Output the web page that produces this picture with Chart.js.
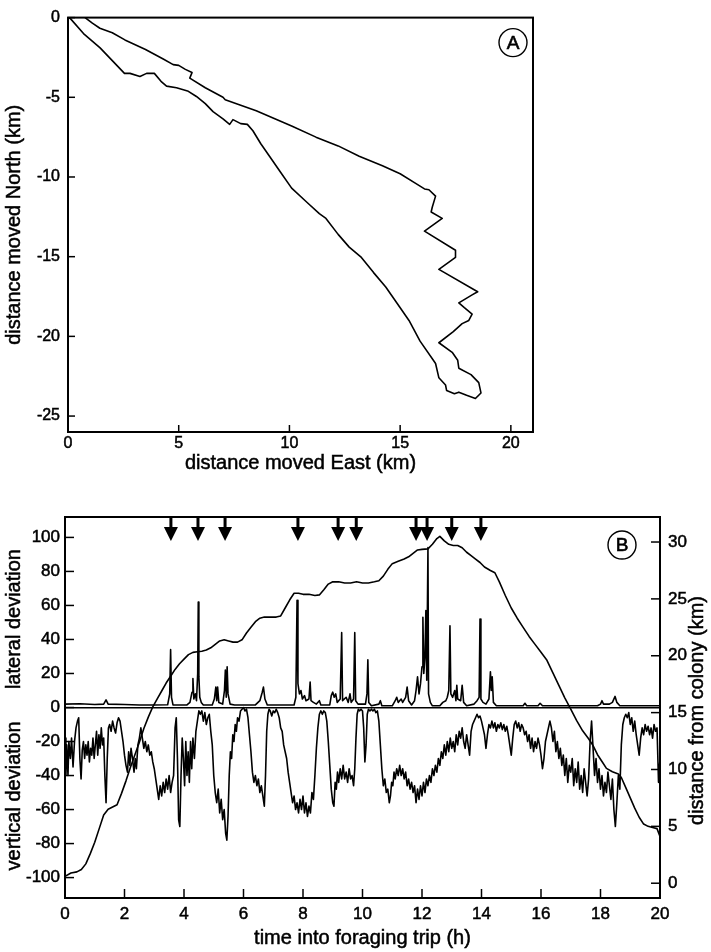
<!DOCTYPE html>
<html>
<head>
<meta charset="utf-8">
<script src="https://cdn.jsdelivr.net/npm/chart.js@4.4.1/dist/chart.umd.min.js"></script>
<style>
  html, body { margin: 0; padding: 0; background: #fff; }
  #wrap { position: relative; width: 711px; height: 952px; }
  canvas { position: absolute; left: 0; }
  #trackA { top: 0; }
  #tripB { top: 480px; }
</style>
</head>
<body>
<div id="wrap">
  <canvas id="trackA" width="711" height="478"></canvas>
  <canvas id="tripB" width="711" height="472"></canvas>
</div>
<script>
// panel A: track, [east km, north km], outbound then return
const trackEN = [
  [0.77,0],[1.1,-0.35],[1.44,-0.67],[2.0,-0.95],[2.57,-1.4],[3.5,-2.0],[4.3,-2.6],[4.75,-2.95],
  [5.0,-3.0],[5.3,-3.25],[5.6,-3.45],[5.5,-3.8],[6.2,-4.4],[7.0,-5.0],[7.1,-5.15],[8.5,-5.85],
  [10.1,-6.8],[11.2,-7.5],[12.2,-8.05],[13.15,-8.7],[14.2,-9.3],[15.0,-9.8],[15.7,-10.4],[16.1,-10.75],
  [16.3,-10.8],[16.6,-11.2],[16.45,-11.9],[16.4,-12.2],[16.9,-12.6],[16.1,-13.4],[17.5,-14.6],[17.5,-15.05],
  [16.75,-15.8],[18.5,-17.2],[18.25,-17.4],[17.65,-17.9],[17.9,-18.2],[18.25,-18.6],[18.1,-19.0],[17.8,-19.2],
  [17.4,-19.7],[16.75,-20.4],[17.35,-21.0],[17.6,-21.5],[17.65,-22.0],[18.2,-22.4],[18.55,-22.9],[18.65,-23.55],
  [18.4,-23.9],[18.0,-23.7],[17.65,-23.5],[17.45,-23.6],[17.1,-23.4],[17.05,-23.05],[16.75,-22.6],[16.6,-21.7],
  [16.5,-21.5],[15.9,-20.3],[15.4,-19.0],[14.9,-18.0],[14.35,-16.9],[13.8,-16.0],[13.25,-15.05],[12.7,-14.4],
  [12.2,-13.6],[11.65,-12.6],[11.35,-12.3],[10.8,-11.6],[10.1,-10.7],[9.6,-9.7],[9.1,-8.7],[8.7,-7.9],
  [8.35,-7.1],[8.1,-6.7],[7.8,-6.65],[7.45,-6.4],[7.3,-6.7],[7.0,-6.35],[6.55,-5.9],[6.2,-5.4],
  [5.8,-4.95],[5.4,-4.6],[4.9,-4.4],[4.45,-4.3],[4.2,-4.0],[3.9,-3.5],[3.55,-3.5],[3.25,-3.7],
  [2.8,-3.5],[2.55,-3.5],[2.0,-2.7],[1.45,-1.9],[0.7,-1.0],[0.1,-0.05],[0,0]
];

// panel B: [hours, value]
const lateralDev = [
  [0,2],[0.5,2.2],[1.0,1.8],[1.3,2],[1.38,4.5],[1.45,2],[2.0,1.8],[2.5,1.5],[3.0,1.5],[3.45,1.6],
  [3.52,8],[3.55,34],[3.58,6],[3.63,1.5],[4.1,1.5],[4.2,3],[4.27,9],[4.3,17],[4.33,5],[4.38,8],
  [4.42,4],[4.46,20],[4.48,62],[4.5,18],[4.53,6],[4.58,3],[4.65,1.5],[4.95,1.5],[5.02,5],[5.07,12],
  [5.1,4],[5.13,12],[5.17,3],[5.3,2],[5.36,10],[5.39,22],[5.42,6],[5.45,24],[5.48,8],[5.55,2],
  [5.7,1.5],[6.4,1.5],[6.55,4],[6.63,9],[6.67,12],[6.72,5],[6.8,1.5],[7.7,1.5],[7.76,6],[7.8,63],
  [7.83,14],[7.88,8],[7.93,10],[7.98,5],[8.05,7],[8.1,4],[8.2,5],[8.24,15],[8.27,4],[8.35,3],
  [8.45,2],[8.55,4],[8.6,1.5],[8.9,1.5],[8.95,7],[9.0,9],[9.05,6],[9.1,8],[9.15,3],[9.25,5],
  [9.3,44],[9.33,4],[9.45,6],[9.52,3],[9.58,8],[9.62,3],[9.7,5],[9.74,44],[9.77,4],[9.85,2],
  [10.1,2],[10.15,8],[10.18,28],[10.21,3],[10.3,1],[10.55,2],[10.6,4],[10.65,1],[11.0,1],[11.1,4],
  [11.15,6],[11.2,3],[11.3,5],[11.35,3],[11.45,6],[11.5,12],[11.55,4],[11.65,1.5],[11.75,4],[11.8,10],
  [11.85,18],[11.9,8],[11.95,14],[12.0,24],[12.03,53],[12.06,20],[12.1,30],[12.13,57],[12.16,16],[12.2,94],
  [12.22,8],[12.28,3],[12.35,1],[12.6,1],[12.7,3],[12.8,4],[12.85,6],[12.9,10],[12.94,48],[12.97,8],
  [13.03,6],[13.1,10],[13.14,4],[13.17,13],[13.2,5],[13.3,4],[13.35,13],[13.4,3],[13.5,1],[13.75,2],
  [13.85,4],[13.92,6],[13.95,52],[13.98,5],[14.05,3],[14.15,2],[14.25,5],[14.3,21],[14.33,10],[14.36,18],
  [14.4,3],[14.5,1],[15.4,1],[15.46,2.5],[15.52,1],[15.9,1],[15.97,2.5],[16.05,1],[17.9,1],[18.0,2],
  [18.05,4],[18.1,2],[18.3,2],[18.4,3],[18.49,6.5],[18.55,3],[18.65,1],[19.5,1],[20,1]
];

const verticalDev = [
  [0,-18],[0.03,-40],[0.06,-22],[0.1,-40],[0.13,-20],[0.18,-30],[0.22,-18],[0.27,-35],[0.32,-20],[0.37,-12],
  [0.42,-8],[0.46,-6],[0.5,-30],[0.54,-42],[0.58,-25],[0.62,-20],[0.66,-30],[0.7,-22],[0.74,-28],[0.78,-20],
  [0.82,-32],[0.86,-24],[0.9,-28],[0.94,-18],[0.98,-30],[1.02,-22],[1.06,-14],[1.1,-28],[1.14,-16],[1.18,-24],
  [1.22,-12],[1.26,-22],[1.3,-18],[1.34,-40],[1.38,-56],[1.42,-30],[1.46,-12],[1.5,-10],[1.55,-14],[1.6,-8],
  [1.65,-12],[1.7,-15],[1.75,-9],[1.8,-6],[1.85,-8],[1.9,-14],[1.95,-20],[2.0,-28],[2.05,-34],[2.1,-38],
  [2.14,-26],[2.18,-34],[2.22,-24],[2.27,-30],[2.32,-38],[2.36,-30],[2.4,-36],[2.45,-22],[2.5,-18],[2.55,-12],
  [2.6,-18],[2.65,-24],[2.7,-20],[2.75,-26],[2.8,-22],[2.85,-28],[2.9,-26],[2.95,-32],[3.0,-36],[3.05,-42],
  [3.1,-48],[3.15,-54],[3.2,-46],[3.25,-52],[3.3,-44],[3.35,-50],[3.4,-42],[3.45,-48],[3.5,-40],[3.55,-50],
  [3.6,-44],[3.65,-40],[3.7,-12],[3.74,-6],[3.78,-30],[3.82,-66],[3.86,-70],[3.9,-40],[3.94,-18],[3.98,-30],
  [4.02,-46],[4.06,-20],[4.1,-40],[4.14,-26],[4.18,-44],[4.22,-20],[4.26,-36],[4.3,-18],[4.35,-30],[4.4,-14],
  [4.45,-8],[4.5,-2],[4.55,-4],[4.6,-2],[4.65,-8],[4.7,-3],[4.75,-10],[4.8,-6],[4.85,-4],[4.9,-14],
  [4.95,-22],[5.0,-40],[5.05,-50],[5.1,-56],[5.15,-48],[5.2,-62],[5.25,-54],[5.3,-66],[5.35,-60],[5.4,-74],
  [5.44,-78],[5.48,-64],[5.52,-40],[5.56,-26],[5.6,-30],[5.64,-16],[5.68,-20],[5.72,-10],[5.76,-14],[5.8,-6],
  [5.85,-8],[5.9,-2],[5.95,-1],[6.0,0],[6.05,-2],[6.1,-1],[6.15,-6],[6.2,-16],[6.25,-26],[6.3,-38],
  [6.35,-44],[6.4,-40],[6.45,-46],[6.5,-42],[6.55,-50],[6.6,-46],[6.65,-52],[6.7,-58],[6.74,-40],[6.78,-14],
  [6.82,-4],[6.86,-1],[6.9,-2],[6.95,-5],[7.0,-2],[7.05,-3],[7.1,-1],[7.15,-3],[7.2,-6],[7.25,-12],
  [7.3,-14],[7.35,-22],[7.4,-26],[7.45,-30],[7.5,-38],[7.55,-44],[7.6,-50],[7.65,-56],[7.7,-52],[7.75,-60],
  [7.8,-56],[7.85,-62],[7.9,-54],[7.95,-60],[8.0,-52],[8.05,-62],[8.1,-56],[8.15,-64],[8.2,-58],[8.25,-62],
  [8.3,-50],[8.35,-54],[8.4,-40],[8.45,-24],[8.5,-12],[8.55,-4],[8.6,-2],[8.65,-4],[8.7,-2],[8.75,-3],
  [8.8,-8],[8.85,-20],[8.9,-34],[8.95,-48],[9.0,-56],[9.04,-58],[9.08,-44],[9.12,-48],[9.16,-38],[9.2,-44],
  [9.25,-36],[9.3,-42],[9.35,-34],[9.4,-42],[9.45,-38],[9.5,-44],[9.55,-36],[9.6,-42],[9.65,-40],[9.7,-46],
  [9.74,-36],[9.78,-18],[9.82,-4],[9.86,-1],[9.9,-2],[9.95,-1],[10.0,-2],[10.04,-12],[10.08,-32],[10.12,-22],
  [10.16,-4],[10.2,-1],[10.25,-2],[10.3,-1],[10.35,-2],[10.4,-1],[10.45,-3],[10.5,-2],[10.55,-8],[10.6,-22],
  [10.65,-36],[10.7,-46],[10.75,-42],[10.8,-50],[10.85,-48],[10.9,-56],[10.94,-52],[10.98,-44],[11.02,-46],[11.06,-38],
  [11.1,-42],[11.15,-36],[11.2,-40],[11.25,-34],[11.3,-40],[11.35,-36],[11.4,-42],[11.45,-38],[11.5,-46],[11.55,-42],
  [11.6,-48],[11.65,-44],[11.7,-50],[11.75,-46],[11.8,-56],[11.85,-48],[11.9,-54],[11.95,-46],[12.0,-52],[12.05,-44],
  [12.1,-50],[12.15,-42],[12.2,-46],[12.25,-40],[12.3,-44],[12.35,-36],[12.4,-40],[12.45,-34],[12.5,-38],[12.55,-30],
  [12.6,-34],[12.65,-26],[12.7,-30],[12.75,-22],[12.8,-28],[12.85,-20],[12.9,-26],[12.95,-18],[13.0,-24],[13.05,-20],
  [13.1,-26],[13.15,-16],[13.2,-22],[13.25,-14],[13.3,-18],[13.35,-12],[13.4,-20],[13.45,-24],[13.5,-16],[13.55,-22],
  [13.6,-28],[13.65,-14],[13.7,-10],[13.75,-8],[13.8,-6],[13.85,-4],[13.9,-6],[13.95,-5],[14.0,-8],[14.05,-12],
  [14.1,-16],[14.15,-24],[14.2,-16],[14.25,-10],[14.3,-12],[14.35,-8],[14.4,-12],[14.45,-9],[14.5,-14],[14.55,-10],
  [14.6,-12],[14.65,-9],[14.7,-13],[14.75,-10],[14.8,-14],[14.85,-11],[14.9,-16],[14.95,-22],[15.0,-28],[15.05,-18],
  [15.1,-10],[15.15,-8],[15.2,-12],[15.25,-9],[15.3,-14],[15.35,-10],[15.4,-12],[15.45,-16],[15.5,-14],[15.55,-20],
  [15.6,-16],[15.65,-24],[15.7,-18],[15.75,-26],[15.8,-20],[15.85,-24],[15.9,-18],[15.95,-22],[16.0,-28],[16.05,-36],
  [16.1,-30],[16.15,-20],[16.2,-16],[16.25,-12],[16.3,-8],[16.35,-12],[16.4,-20],[16.45,-14],[16.5,-26],[16.55,-20],
  [16.6,-30],[16.65,-24],[16.7,-34],[16.75,-28],[16.8,-40],[16.85,-30],[16.9,-44],[16.95,-34],[17.0,-38],[17.05,-30],
  [17.1,-46],[17.15,-36],[17.2,-44],[17.25,-32],[17.3,-48],[17.35,-40],[17.4,-50],[17.45,-36],[17.5,-44],[17.55,-52],
  [17.6,-42],[17.65,-20],[17.7,-8],[17.75,-24],[17.8,-40],[17.85,-30],[17.9,-44],[17.95,-36],[18.0,-48],[18.05,-40],
  [18.1,-52],[18.15,-44],[18.2,-50],[18.25,-38],[18.3,-46],[18.35,-54],[18.4,-42],[18.45,-60],[18.5,-70],[18.55,-56],
  [18.6,-40],[18.65,-48],[18.7,-22],[18.75,-10],[18.8,-6],[18.85,-4],[18.9,-6],[18.95,-3],[19.0,-10],[19.05,-6],
  [19.1,-14],[19.15,-8],[19.2,-16],[19.25,-22],[19.3,-28],[19.35,-18],[19.4,-12],[19.45,-16],[19.5,-10],[19.55,-14],
  [19.6,-11],[19.65,-16],[19.7,-12],[19.75,-18],[19.8,-10],[19.85,-14],[19.9,-12],[19.95,-44],[20.0,-30]
];

const colonyDist = [
  [0,0.6],[0.2,0.9],[0.4,1.0],[0.55,1.2],[0.7,1.7],[0.85,2.6],[1.0,3.6],[1.15,4.8],[1.3,6.0],[1.45,6.5],
  [1.6,6.7],[1.75,6.9],[1.9,7.9],[2.05,9.0],[2.2,10.2],[2.35,11.3],[2.5,12.4],[2.65,13.6],[2.8,14.6],[2.95,15.5],
  [3.1,16.2],[3.25,16.9],[3.4,17.6],[3.55,18.2],[3.7,18.8],[3.85,19.3],[4.0,19.7],[4.15,20.1],[4.3,20.3],[4.45,20.35],
  [4.6,20.4],[4.75,20.5],[4.9,20.7],[5.05,21.0],[5.2,21.3],[5.35,21.4],[5.5,21.3],[5.65,21.2],[5.8,21.2],[5.95,21.4],
  [6.1,22.0],[6.25,22.5],[6.4,23.0],[6.55,23.3],[6.7,23.4],[6.9,23.4],[7.1,23.4],[7.25,23.5],[7.4,24.2],[7.55,24.9],
  [7.7,25.5],[7.85,25.5],[8.0,25.4],[8.2,25.4],[8.4,25.3],[8.55,25.35],[8.7,25.8],[8.85,26.3],[9.0,26.5],[9.2,26.5],
  [9.4,26.4],[9.6,26.4],[9.8,26.5],[10.0,26.4],[10.2,26.4],[10.4,26.5],[10.55,26.6],[10.7,27.0],[10.85,27.6],[11.0,28.1],
  [11.2,28.3],[11.4,28.5],[11.55,28.7],[11.7,29.0],[11.85,29.3],[12.0,29.35],[12.2,29.4],[12.35,29.8],[12.5,30.3],[12.6,30.5],
  [12.75,30.1],[12.9,29.8],[13.05,29.7],[13.2,29.7],[13.35,29.5],[13.5,29.1],[13.65,28.8],[13.8,28.5],[13.95,28.2],[14.1,27.8],
  [14.3,27.5],[14.45,27.3],[14.6,26.5],[14.8,25.3],[15.0,24.2],[15.2,23.3],[15.4,22.5],[15.6,21.7],[15.8,21.0],[16.0,20.3],
  [16.2,19.6],[16.4,18.5],[16.6,17.4],[16.8,16.3],[17.0,15.3],[17.2,14.3],[17.4,13.4],[17.6,12.7],[17.75,12.1],[17.9,11.3],
  [18.05,10.7],[18.2,10.1],[18.4,9.8],[18.6,9.6],[18.7,9.3],[18.85,8.4],[19.0,7.5],[19.15,6.6],[19.3,5.8],[19.45,5.2],
  [19.6,5.0],[19.75,4.9],[19.9,4.8],[20.0,4.1]
];

const arrowTimes = [3.56, 4.47, 5.38, 7.83, 9.18, 9.79, 11.8, 12.17, 13.0, 13.98];

const xTicksA = { min: 0, max: 21, step: 5 };
const yTicksA = { min: -26, max: 0, step: 5 };
const devTicks = { min: -112, max: 112, step: 20 };
const distTicks = { min: -1.3, max: 32.2, step: 5 };

const FONT = "'Liberation Sans', Arial, Helvetica, sans-serif";
Chart.defaults.font.family = FONT;
Chart.defaults.color = '#000';

const toXY = arr => arr.map(p => ({ x: p[0], y: p[1] }));

const lineStyle = {
  showLine: true, borderColor: '#000', borderWidth: 1.6, pointRadius: 0,
  fill: false, tension: 0, borderJoinStyle: 'round'
};

const tickFont = size => ({ font: { size }, textStrokeColor: '#000', textStrokeWidth: 0.5 });

// frame box + inward ticks
const frameTicks = {
  id: 'frameTicks',
  afterDraw(chart, args, opts) {
    const { ctx, chartArea: a } = chart;
    const len = opts.len || 7;
    ctx.save();
    ctx.strokeStyle = '#000';
    ctx.lineWidth = 2;
    ctx.strokeRect(a.left, a.top, a.right - a.left, a.bottom - a.top);
    ctx.lineWidth = 1.5;
    Object.values(chart.scales).forEach(s => {
      s.ticks.forEach(t => {
        const p = s.getPixelForValue(t.value);
        ctx.beginPath();
        if (s.position === 'bottom') { ctx.moveTo(p, a.bottom); ctx.lineTo(p, a.bottom - len); }
        else if (s.position === 'left') { ctx.moveTo(a.left, p); ctx.lineTo(a.left + len, p); }
        else if (s.position === 'right') { ctx.moveTo(a.right, p); ctx.lineTo(a.right - len, p); }
        ctx.stroke();
      });
    });
    ctx.restore();
  }
};

const circleLabel = {
  id: 'circleLabel',
  afterDraw(chart, args, opts) {
    const { ctx, chartArea: a } = chart;
    const cx = a.right - opts.dx, cy = a.top + opts.dy;
    ctx.save();
    ctx.lineWidth = 1.4;
    ctx.strokeStyle = '#000';
    ctx.beginPath();
    ctx.arc(cx, cy, 14, 0, Math.PI * 2);
    ctx.stroke();
    ctx.fillStyle = '#000';
    ctx.lineWidth = 0.6;
    ctx.font = "19px " + FONT;
    ctx.textAlign = 'center';
    ctx.textBaseline = 'middle';
    ctx.fillText(opts.text, cx, cy + 1);
    ctx.strokeText(opts.text, cx, cy + 1);
    ctx.restore();
  }
};

const arrows = {
  id: 'arrows',
  afterDatasetsDraw(chart) {
    const { ctx, chartArea: a, scales: { x } } = chart;
    ctx.save();
    ctx.fillStyle = '#000';
    arrowTimes.forEach(t => {
      const p = x.getPixelForValue(t);
      ctx.fillRect(p - 1.5, a.top, 3, 12);
      ctx.beginPath();
      ctx.moveTo(p - 7, a.top + 10);
      ctx.lineTo(p + 7, a.top + 10);
      ctx.lineTo(p, a.top + 24);
      ctx.closePath();
      ctx.fill();
    });
    ctx.restore();
  }
};

// axis titles, drawn with a light stroke to match the heavy print
const axisTitles = {
  id: 'axisTitles',
  afterDraw(chart, args, opts) {
    const { ctx } = chart;
    ctx.save();
    ctx.fillStyle = '#000';
    ctx.strokeStyle = '#000';
    ctx.lineWidth = 0.5;
    ctx.font = "20px " + FONT;
    ctx.textAlign = 'center';
    ctx.textBaseline = 'middle';
    opts.items(chart).forEach(it => {
      ctx.save();
      ctx.translate(it.x, it.y);
      if (it.rot) ctx.rotate(-Math.PI / 2);
      ctx.fillText(it.text, 0, 0);
      ctx.strokeText(it.text, 0, 0);
      ctx.restore();
    });
    ctx.restore();
  }
};

new Chart(document.getElementById('trackA'), {
  type: 'scatter',
  data: { datasets: [{ data: toXY(trackEN), ...lineStyle }] },
  options: {
    responsive: false, animation: false,
    layout: { padding: { left: 0, top: 16, right: 178, bottom: 0 } },
    plugins: {
      legend: { display: false }, tooltip: { enabled: false },
      circleLabel: { text: 'A', dx: 20, dy: 25 }, frameTicks: { len: 7 },
      axisTitles: {
        items: c => [
          { text: 'distance moved East (km)', x: (c.chartArea.left + c.chartArea.right) / 2, y: 463 },
          { text: 'distance moved North (km)', x: 14, y: (c.chartArea.top + c.chartArea.bottom) / 2, rot: true }
        ]
      }
    },
    scales: {
      x: {
        type: 'linear', position: 'bottom', min: xTicksA.min, max: xTicksA.max,
        ticks: { stepSize: xTicksA.step, padding: 2, includeBounds: false, maxRotation: 0, ...tickFont(16) },
        grid: { display: false, drawTicks: false }, border: { display: false },
        afterFit: s => { s.height = 46; }
      },
      y: {
        type: 'linear', position: 'left', min: yTicksA.min, max: yTicksA.max,
        ticks: { stepSize: yTicksA.step, padding: 8, includeBounds: false, ...tickFont(16) },
        grid: { display: false, drawTicks: false }, border: { display: false },
        afterFit: s => { s.width = 68; }
      }
    }
  },
  plugins: [frameTicks, circleLabel, axisTitles]
});

new Chart(document.getElementById('tripB'), {
  type: 'scatter',
  data: {
    datasets: [
      { data: toXY(verticalDev), yAxisID: 'y', ...lineStyle },
      { data: toXY(lateralDev), yAxisID: 'y', ...lineStyle },
      { data: toXY(colonyDist), yAxisID: 'y2', ...lineStyle }
    ]
  },
  options: {
    responsive: false, animation: false,
    layout: { padding: { left: 0, top: 37, right: 0, bottom: 0 } },
    plugins: {
      legend: { display: false }, tooltip: { enabled: false },
      circleLabel: { text: 'B', dx: 38, dy: 28 }, frameTicks: { len: 9 },
      axisTitles: {
        items: c => [
          { text: 'time into foraging trip (h)', x: (c.chartArea.left + c.chartArea.right) / 2, y: 458 },
          { text: 'lateral deviation', x: 14, y: c.scales.y.getPixelForValue(52), rot: true },
          { text: 'vertical deviation', x: 14, y: c.scales.y.getPixelForValue(-52), rot: true },
          { text: 'distance from colony (km)', x: 697, y: (c.chartArea.top + c.chartArea.bottom) / 2 + 3, rot: true }
        ]
      }
    },
    scales: {
      x: {
        type: 'linear', position: 'bottom', min: 0, max: 20,
        ticks: { stepSize: 2, padding: 6, includeBounds: false, maxRotation: 0, ...tickFont(17) },
        grid: { display: false, drawTicks: false }, border: { display: false },
        afterFit: s => { s.height = 54; }
      },
      y: {
        type: 'linear', position: 'left', min: devTicks.min, max: devTicks.max,
        ticks: { stepSize: devTicks.step, padding: 5, includeBounds: false, ...tickFont(17) },
        grid: {
          drawTicks: false, lineWidth: 1.5,
          color: c => (c.tick && c.tick.value === 0) ? '#000' : 'rgba(0,0,0,0)'
        },
        border: { display: false },
        afterFit: s => { s.width = 65; }
      },
      y2: {
        type: 'linear', position: 'right', min: distTicks.min, max: distTicks.max,
        ticks: { stepSize: distTicks.step, padding: 8, includeBounds: false, ...tickFont(17) },
        grid: { display: false, drawTicks: false }, border: { display: false },
        afterFit: s => { s.width = 51; }
      }
    }
  },
  plugins: [frameTicks, circleLabel, arrows, axisTitles]
});
</script>
</body>
</html>
